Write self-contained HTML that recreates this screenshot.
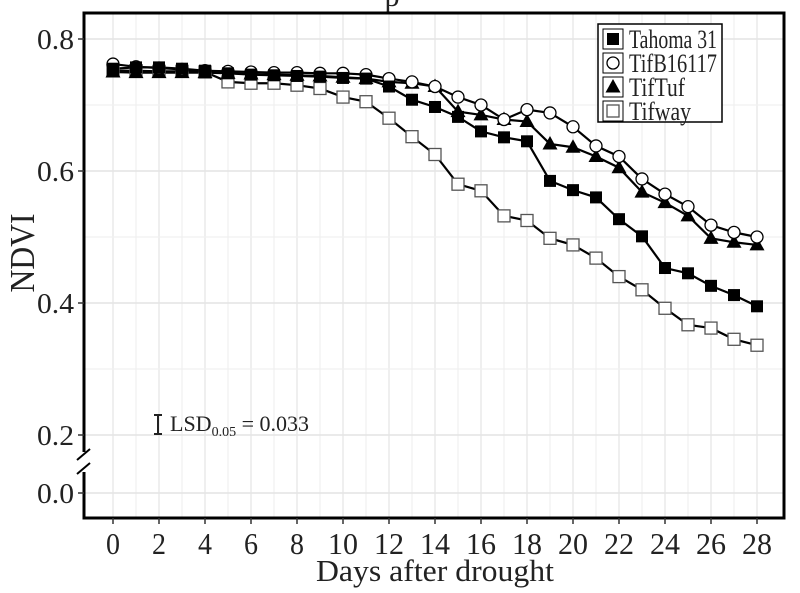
<!DOCTYPE html>
<html><head><meta charset="utf-8"><style>
html,body{margin:0;padding:0;background:#fff;width:800px;height:593px;overflow:hidden}
svg text{font-family:"Liberation Serif",serif;fill:#222}
</style></head><body>
<svg id="s" width="800" height="593" viewBox="0 0 800 593" xmlns="http://www.w3.org/2000/svg">
<rect width="800" height="593" fill="#fff"/>
<text x="392" y="6" font-size="30" text-anchor="middle">p</text>
<g id="grid"></g>
<g id="series"></g>
<rect x="84" y="13" width="700" height="505" fill="none" stroke="#000" stroke-width="3"/>
<g id="axes"></g>
<text x="-253" y="34" transform="rotate(-90)" font-size="35" text-anchor="middle" textLength="79" lengthAdjust="spacingAndGlyphs">NDVI</text>
<text x="435" y="581" font-size="31" text-anchor="middle" textLength="238" lengthAdjust="spacingAndGlyphs">Days after drought</text>
<line x1="158" y1="415" x2="158" y2="434" stroke="#222" stroke-width="2"/>
<line x1="154" y1="415" x2="162" y2="415" stroke="#222" stroke-width="2"/>
<line x1="154" y1="434" x2="162" y2="434" stroke="#222" stroke-width="2"/>
<text x="170" y="431" font-size="22">LSD<tspan font-size="14" dy="5">0.05</tspan><tspan dy="-5"> = 0.033</tspan></text>
<g id="legend">
<rect x="598" y="24" width="124" height="98" fill="#fff" stroke="#000" stroke-width="1.5"/>
</g>
</svg>
<script>
const X=d=>113+23*d, Y=v=>39+(0.8-v)*660;
const NS="http://www.w3.org/2000/svg";
function el(p,t,a){const e=document.createElementNS(NS,t);for(const k in a)e.setAttribute(k,a[k]);p.appendChild(e);return e;}
const g=document.getElementById('grid'),ax=document.getElementById('axes'),se=document.getElementById('series'),lg=document.getElementById('legend');
for(let d=0;d<=28;d++)el(g,'line',{x1:X(d),x2:X(d),y1:14,y2:517,stroke:d%2?'#f0f0f0':'#e4e4e4','stroke-width':1.2});
[0.8,0.6,0.4,0.2].forEach(v=>{el(g,'line',{x1:85,x2:783,y1:Y(v),y2:Y(v),stroke:'#e4e4e4','stroke-width':1.5});});
[0.7,0.5,0.3].forEach(v=>{el(g,'line',{x1:85,x2:783,y1:Y(v),y2:Y(v),stroke:'#f0f0f0','stroke-width':1.2});});
el(g,'line',{x1:85,x2:783,y1:493,y2:493,stroke:'#e4e4e4','stroke-width':1.5});
[[0.8,Y(0.8)],[0.6,Y(0.6)],[0.4,Y(0.4)],[0.2,Y(0.2)],[0.0,493]].forEach(([v,y])=>{
 el(ax,'line',{x1:78,x2:84,y1:y,y2:y,stroke:'#333','stroke-width':1.5});
 const t=el(ax,'text',{x:74,y:y+10,'font-size':29,'text-anchor':'end',fill:'#444',textLength:37,lengthAdjust:'spacingAndGlyphs'});t.textContent=v.toFixed(1);});
el(ax,'rect',{x:80,y:452,width:8,height:20,fill:'#fff'});
el(ax,'line',{x1:77,y1:460,x2:90,y2:449,stroke:'#000','stroke-width':2});
el(ax,'line',{x1:77,y1:474,x2:90,y2:463,stroke:'#000','stroke-width':2});
for(let d=0;d<=28;d+=2){el(ax,'line',{x1:X(d),x2:X(d),y1:518,y2:524,stroke:'#333','stroke-width':1.5});
 const a={x:X(d),y:554,'font-size':31,'text-anchor':'middle',fill:'#444'};
 if(d>=10){a.textLength=30;a.lengthAdjust='spacingAndGlyphs';} else {a.textLength=14;a.lengthAdjust='spacingAndGlyphs';}
 const t=el(ax,'text',a);t.textContent=d;}
const data={
ta:[0.755,0.757,0.757,0.755,0.752,0.748,0.746,0.745,0.744,0.743,0.741,0.74,0.728,0.708,0.697,0.682,0.66,0.651,0.645,0.585,0.571,0.56,0.527,0.501,0.453,0.445,0.426,0.412,0.395],
tb:[0.762,0.758,0.756,0.754,0.752,0.751,0.750,0.749,0.749,0.748,0.748,0.746,0.74,0.735,0.728,0.712,0.70,0.678,0.693,0.688,0.667,0.638,0.622,0.588,0.565,0.546,0.518,0.507,0.50],
tt:[0.75,0.749,0.749,0.749,0.749,0.748,0.747,0.746,0.745,0.744,0.742,0.740,0.735,0.733,0.728,0.69,0.685,0.678,0.675,0.641,0.636,0.622,0.605,0.568,0.552,0.532,0.498,0.492,0.488],
tw:[0.752,0.752,0.751,0.751,0.750,0.735,0.733,0.733,0.73,0.725,0.712,0.705,0.68,0.652,0.625,0.58,0.57,0.532,0.525,0.498,0.488,0.468,0.44,0.42,0.392,0.367,0.362,0.345,0.336]};
function mark(p,k,x,y){
 if(k=='ta')el(p,'rect',{x:x-6,y:y-6,width:12,height:12,fill:'#000'});
 if(k=='tb')el(p,'circle',{cx:x,cy:y,r:6,fill:'#fff',stroke:'#000','stroke-width':1.3});
 if(k=='tt')el(p,'polygon',{points:`${x},${y-8} ${x+7.5},${y+5.5} ${x-7.5},${y+5.5}`,fill:'#000'});
 if(k=='tw')el(p,'rect',{x:x-6,y:y-6,width:12,height:12,fill:'#fff',stroke:'#555','stroke-width':1.3});
}
['tw','tt','ta','tb'].forEach(k=>{
 el(se,'polyline',{points:data[k].map((v,i)=>X(i)+','+Y(v)).join(' '),fill:'none',stroke:'#000','stroke-width':2.2});
});
['tw','tt','tb','ta'].forEach(k=>data[k].forEach((v,i)=>mark(se,k,X(i),Y(v))));
const names=[['ta','Tahoma 31',88],['tb','TifB16117',88],['tt','TifTuf',56],['tw','Tifway',62]];
names.forEach(([k,n,w],i)=>{const y=39+i*24;
 el(lg,'rect',{x:603,y:y-10,width:20,height:20,fill:'#fff',stroke:'#000','stroke-width':1});
 mark(lg,k,613,y);
 const t=el(lg,'text',{x:629,y:y+9,'font-size':26,fill:'#111',textLength:w,lengthAdjust:'spacingAndGlyphs'});t.textContent=n;});
</script>
</body></html>
